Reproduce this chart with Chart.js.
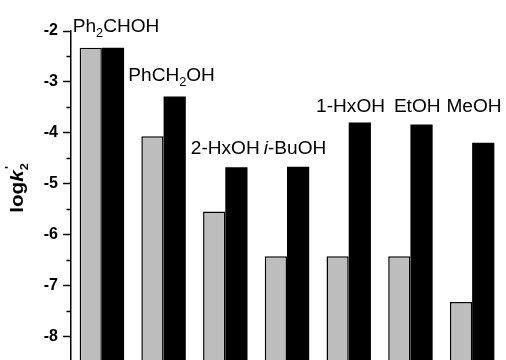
<!DOCTYPE html>
<html>
<head>
<meta charset="utf-8">
<script src="https://cdn.jsdelivr.net/npm/chart.js@4"></script>
<style>
  html, body { margin: 0; padding: 0; background: #fff; }
  #wrap { width: 506px; height: 360px; }
</style>
</head>
<body>
<div id="wrap"><canvas id="chart" width="506" height="360"></canvas></div>
<script>
// alcohols, _{..} = subscript, *..* = italic
const categories = ["Ph_{2}CHOH", "PhCH_{2}OH", "2-HxOH", "*i*-BuOH", "1-HxOH", "EtOH", "MeOH"];
const grayValues = [-2.33, -4.07, -5.55, -6.43, -6.43, -6.43, -7.33];
const blackValues = [-2.33, -3.29, -4.68, -4.67, -3.80, -3.84, -4.20];
const majorTicks = [-2, -3, -4, -5, -6, -7, -8];
const minorTicks = [-2.5, -3.5, -4.5, -5.5, -6.5, -7.5];
// where the name labels sit (category index, log value of baseline)
const labelX = [0.23, 1.13, 2.0, 3.13, 4.03, 5.11, 6.03];
const labelY = [-2.02, -2.98, -4.42, -4.42, -3.59, -3.59, -3.59];

const yMin = -8.47;
const yMax = -2;
const FONT = "'Liberation Sans', Arial, sans-serif";

// split "Ph_{2}CHOH" into runs
function parseRich(str) {
  const parts = [];
  const re = /_\{([^}]*)\}|\*([^*]*)\*|([^_*]+)/g;
  let m;
  while ((m = re.exec(str)) !== null) {
    if (m[1] !== undefined) parts.push({ t: m[1], sub: true });
    else if (m[2] !== undefined) parts.push({ t: m[2], it: true });
    else parts.push({ t: m[3] });
  }
  return parts;
}

function runFont(p, size, bold) {
  const w = bold ? "bold " : "";
  const s = p.it ? "italic " : "";
  return s + w + (p.sub ? Math.round(size * 0.65) : size) + "px " + FONT;
}

function drawRich(ctx, str, x, y, size, stretch) {
  const parts = parseRich(str);
  let total = 0;
  parts.forEach(p => {
    ctx.font = runFont(p, size, false);
    p.w = ctx.measureText(p.t).width;
    total += p.w;
  });
  ctx.save();
  ctx.translate(x, y);
  ctx.scale(stretch, 1);
  let cx = -total / 2;
  ctx.textBaseline = "alphabetic";
  ctx.textAlign = "left";
  ctx.fillStyle = "#000";
  parts.forEach(p => {
    ctx.font = runFont(p, size, false);
    ctx.fillText(p.t, cx, p.sub ? size * 0.28 : 0);
    cx += p.w;
  });
  ctx.restore();
}

const namesPlugin = {
  id: "names",
  afterDatasetsDraw(chart) {
    const { ctx, scales: { x, y } } = chart;
    categories.forEach((name, i) => {
      drawRich(ctx, name, x.getPixelForValue(labelX[i]), y.getPixelForValue(labelY[i]), 18, 1.06);
    });
  }
};

const minorTickPlugin = {
  id: "minorTicks",
  afterDraw(chart) {
    const { ctx, scales: { y } } = chart;
    ctx.save();
    ctx.strokeStyle = "#000";
    ctx.lineWidth = 1.5;
    minorTicks.forEach(v => {
      const py = Math.round(y.getPixelForValue(v)) + 0.5;
      ctx.beginPath();
      ctx.moveTo(y.right - 4.5, py);
      ctx.lineTo(y.right, py);
      ctx.stroke();
    });
    ctx.restore();
  }
};

// y title: log k2' with italic k, subscript 2 and prime
const yTitlePlugin = {
  id: "yTitle",
  afterDraw(chart) {
    const { ctx } = chart;
    const size = 18;
    ctx.save();
    ctx.translate(23, 188);
    ctx.rotate(-Math.PI / 2);
    ctx.scale(1.15, 1);
    ctx.fillStyle = "#000";
    ctx.textBaseline = "alphabetic";
    ctx.font = "bold " + size + "px " + FONT;
    const wLog = ctx.measureText("log").width;
    ctx.font = "italic bold " + size + "px " + FONT;
    const wK = ctx.measureText("k").width;
    ctx.font = "bold " + Math.round(size * 0.62) + "px " + FONT;
    const wSub = ctx.measureText("2").width;
    let cx = -(wLog + wK + wSub) / 2;
    ctx.font = "bold " + size + "px " + FONT;
    ctx.fillText("log", cx, 0);
    cx += wLog;
    ctx.font = "italic bold " + size + "px " + FONT;
    ctx.fillText("k", cx, 0);
    cx += wK;
    ctx.font = "bold " + Math.round(size * 0.62) + "px " + FONT;
    ctx.fillText("2", cx, size * 0.3);
    ctx.fillText("'", cx + 1, -size * 0.55);
    ctx.restore();
  }
};

new Chart(document.getElementById("chart"), {
  type: "bar",
  data: {
    labels: categories,
    datasets: [
      {
        data: grayValues,
        backgroundColor: "#bdbdbd",
        borderColor: "#000",
        borderWidth: 1.5,
        borderSkipped: "start",
        base: -9
      },
      {
        data: blackValues,
        backgroundColor: "#000",
        borderColor: "#000",
        borderWidth: 0,
        base: -9
      }
    ]
  },
  options: {
    responsive: false,
    devicePixelRatio: 1,
    animation: false,
    datasets: {
      bar: { categoryPercentage: 0.72, barPercentage: 1.0 }
    },
    layout: { padding: { top: 31, right: 3, bottom: 0, left: 0 } },
    plugins: {
      legend: { display: false },
      tooltip: { enabled: false },
      title: { display: false }
    },
    scales: {
      x: {
        display: false,
        grid: { display: false }
      },
      y: {
        min: yMin,
        max: yMax,
        afterFit: s => {
          s.width = 71;
          s.paddingTop = 0;
          s.paddingBottom = 0;
        },
        afterBuildTicks: s => { s.ticks = majorTicks.map(v => ({ value: v })); },
        border: { display: true, color: "#000", width: 1.5 },
        grid: {
          drawOnChartArea: false,
          drawTicks: true,
          tickLength: 8,
          tickColor: "#000",
          tickWidth: 1.5
        },
        ticks: {
          color: "#000",
          padding: 5,
          font: { family: FONT, size: 16, weight: "bold" },
          callback: v => String(v)
        }
      }
    }
  },
  plugins: [namesPlugin, minorTickPlugin, yTitlePlugin]
});
</script>
</body>
</html>
